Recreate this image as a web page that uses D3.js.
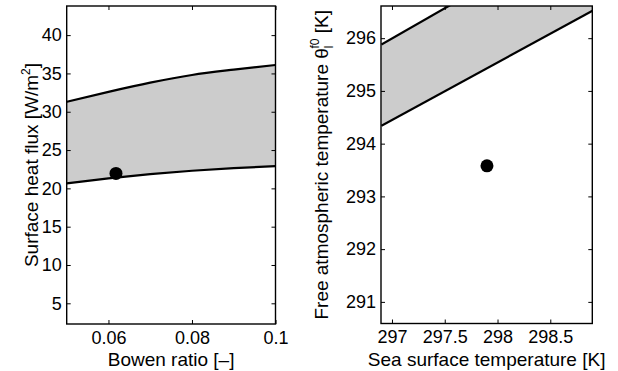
<!DOCTYPE html>
<html>
<head>
<meta charset="utf-8">
<script src="https://cdn.jsdelivr.net/npm/d3@7"></script>
<style>
  body { margin: 0; background: white; }
  svg text { font-family: "Liberation Sans", Arial, Helvetica, sans-serif; fill: #000; }
</style>
</head>
<body>
<div id="plot"></div>
<script>
// left panel: surface heat flux vs Bowen ratio
const bowen = [0.05, 0.06, 0.07, 0.08, 0.09, 0.1];
const fluxUpper = [31.3, 32.6, 33.8, 34.8, 35.5, 36.1];
const fluxLower = [20.65, 21.3, 21.85, 22.3, 22.65, 22.9];
const bowenDot = 0.0618, fluxDot = 21.95;
const bowenTicks = [0.06, 0.08, 0.1];
const fluxTicks = [5, 10, 15, 20, 25, 30, 35, 40];

// right panel: free atmospheric temperature vs SST
const sst = [296.9, 298.9];
const thetaUpper = [295.88, 298.17];
const thetaLower = [294.34, 296.52];
const sstDot = 297.9, thetaDot = 293.58;
const sstTicks = [297, 297.5, 298, 298.5];
const thetaTicks = [291, 292, 293, 294, 295, 296];

const width = 618, height = 371;
const fontSize = 19, tickFont = 18;

const svg = d3.select("#plot").append("svg")
  .attr("width", width)
  .attr("height", height)
  .style("background-color", "white");

function panel(id, cfg) {
  const x = d3.scaleLinear().domain(cfg.xDomain).range([cfg.left, cfg.right]);
  const y = d3.scaleLinear().domain(cfg.yDomain).range([cfg.bottom, cfg.top]);
  const g = svg.append("g");

  // clip to the plot box
  g.append("clipPath").attr("id", id)
    .append("rect")
    .attr("x", cfg.left).attr("y", cfg.top)
    .attr("width", cfg.right - cfg.left).attr("height", cfg.bottom - cfg.top);

  const plot = g.append("g").attr("clip-path", `url(#${id})`);
  const rows = cfg.xs.map((d, i) => ({ x: d, lo: cfg.lo[i], hi: cfg.hi[i] }));

  const area = d3.area()
    .x(d => x(d.x)).y0(d => y(d.lo)).y1(d => y(d.hi))
    .curve(d3.curveMonotoneX);
  plot.append("path").datum(rows)
    .attr("fill", "#cccccc")
    .attr("d", area);

  const line = d3.line().curve(d3.curveMonotoneX);
  ["hi", "lo"].forEach(k => {
    plot.append("path").datum(rows)
      .attr("fill", "none")
      .attr("stroke", "#000")
      .attr("stroke-width", 2.2)
      .attr("d", line.x(d => x(d.x)).y(d => y(d[k])));
  });

  plot.append("circle")
    .attr("cx", x(cfg.dot[0]))
    .attr("cy", y(cfg.dot[1]))
    .attr("r", 6.5)
    .attr("fill", "#000");

  // axes, MATLAB style: ticks pointing in on all four sides
  const tl = 4;
  const styleAxis = sel => {
    sel.select(".domain").remove();
    sel.selectAll(".tick line").attr("stroke", "#000").attr("stroke-width", 1);
    sel.selectAll("text").attr("font-size", tickFont).attr("font-family", null);
  };
  g.append("g").attr("transform", `translate(0,${cfg.bottom})`)
    .call(d3.axisBottom(x).tickValues(cfg.xTicks).tickFormat(cfg.xFormat)
      .tickSizeInner(-tl).tickSizeOuter(0).tickPadding(7))
    .call(styleAxis);
  g.append("g").attr("transform", `translate(0,${cfg.top})`)
    .call(d3.axisTop(x).tickValues(cfg.xTicks).tickFormat("")
      .tickSizeInner(-tl).tickSizeOuter(0))
    .call(styleAxis);
  g.append("g").attr("transform", `translate(${cfg.left},0)`)
    .call(d3.axisLeft(y).tickValues(cfg.yTicks).tickFormat(d3.format("d"))
      .tickSizeInner(-tl).tickSizeOuter(0).tickPadding(5))
    .call(styleAxis);
  g.append("g").attr("transform", `translate(${cfg.right},0)`)
    .call(d3.axisRight(y).tickValues(cfg.yTicks).tickFormat("")
      .tickSizeInner(-tl).tickSizeOuter(0))
    .call(styleAxis);

  g.append("rect")
    .attr("x", cfg.left).attr("y", cfg.top)
    .attr("width", cfg.right - cfg.left).attr("height", cfg.bottom - cfg.top)
    .attr("fill", "none").attr("stroke", "#000").attr("stroke-width", 1.4);

  // x label
  g.append("text")
    .attr("x", (cfg.left + cfg.right) / 2)
    .attr("y", 366)
    .attr("text-anchor", "middle")
    .attr("font-size", fontSize)
    .text(cfg.xLabel);

  // y label
  const yl = g.append("text")
    .attr("transform", `translate(${cfg.yLabelX},${(cfg.top + cfg.bottom) / 2}) rotate(-90)`)
    .attr("text-anchor", "middle")
    .attr("font-size", fontSize);
  cfg.yLabel(yl);
}

panel("clipL", {
  left: 66.7, right: 275.5, top: 6, bottom: 324,
  xDomain: [0.05, 0.1], yDomain: [2.3, 43.8],
  xs: bowen, lo: fluxLower, hi: fluxUpper, dot: [bowenDot, fluxDot],
  xTicks: bowenTicks, yTicks: fluxTicks,
  xFormat: d => d === 0.1 ? "0.1" : d3.format(".2f")(d),
  xLabel: "Bowen ratio [\u2013]",
  yLabelX: 38,
  yLabel: t => {
    t.append("tspan").text("Surface heat flux [W/m");
    t.append("tspan").attr("font-size", 12).attr("dy", -8).text("2");
    t.append("tspan").attr("dy", 8).text("]");
  }
});

panel("clipR", {
  left: 381, right: 592.3, top: 6, bottom: 323.5,
  xDomain: [296.896, 298.898], yDomain: [290.59, 296.61],
  xs: sst, lo: thetaLower, hi: thetaUpper, dot: [sstDot, thetaDot],
  xTicks: sstTicks, yTicks: thetaTicks,
  xFormat: d => String(d),
  xLabel: "Sea surface temperature [K]",
  yLabelX: 328,
  yLabel: t => {
    t.append("tspan").text("Free atmospheric temperature \u03b8");
    t.append("tspan").attr("font-size", 12).attr("dy", 5).text("l");
    t.append("tspan").attr("font-size", 12).attr("dx", -3).attr("dy", -14).text("f0");
    t.append("tspan").attr("dy", 9).text(" [K]");
  }
});
</script>
</body>
</html>
